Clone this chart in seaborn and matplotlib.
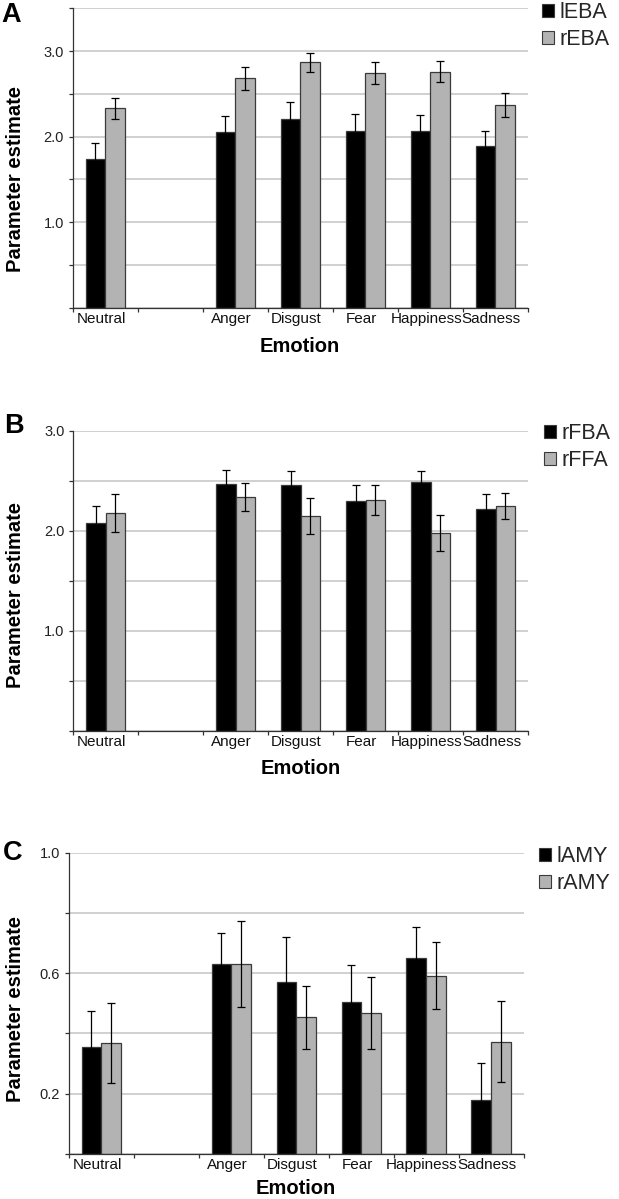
import numpy as np
import pandas as pd
import matplotlib
matplotlib.use("Agg")
import matplotlib.pyplot as plt
import seaborn as sns
from matplotlib.patches import Patch
from matplotlib.transforms import ScaledTranslation

# ---------------- data ----------------
emotions = ["Neutral", "Anger", "Disgust", "Fear", "Happiness", "Sadness"]
order = ["Neutral", " ", "Anger", "Disgust", "Fear", "Happiness", "Sadness"]

a_series = ["lEBA", "rEBA"]
a_first = [1.74, 2.05, 2.21, 2.07, 2.06, 1.895]
a_first_se = [0.19, 0.19, 0.20, 0.20, 0.19, 0.175]
a_second = [2.33, 2.68, 2.87, 2.74, 2.76, 2.375]
a_second_se = [0.12, 0.13, 0.11, 0.13, 0.12, 0.14]

b_series = ["rFBA", "rFFA"]
b_first = [2.08, 2.47, 2.46, 2.30, 2.49, 2.22]
b_first_se = [0.17, 0.14, 0.14, 0.16, 0.11, 0.15]
b_second = [2.18, 2.34, 2.15, 2.31, 1.98, 2.25]
b_second_se = [0.19, 0.14, 0.18, 0.15, 0.18, 0.13]

c_series = ["lAMY", "rAMY"]
c_first = [0.354, 0.63, 0.571, 0.506, 0.649, 0.179]
c_first_se = [0.12, 0.105, 0.15, 0.12, 0.105, 0.123]
c_second = [0.369, 0.63, 0.454, 0.469, 0.592, 0.373]
c_second_se = [0.133, 0.143, 0.105, 0.12, 0.11, 0.134]

ylabel = "Parameter estimate"
xlabel = "Emotion"

# ---------------- style ----------------
sns.set_theme(style="white")
plt.rcParams["font.family"] = ["Liberation Sans", "DejaVu Sans"]

W, H = 619, 1199
fig = plt.figure(figsize=(W / 100, H / 100), dpi=100)

def fx(px):
    return px / W

def fy(py):
    return 1 - py / H

BLACK = "#000000"
GRAY = "#b3b3b3"
EDGE = "#3a3a3a"

panels = [
    dict(letter="A", series=a_series, v1=a_first, e1=a_first_se, v2=a_second, e2=a_second_se,
         rect=(72.7, 8.3, 527.7, 307.7), ymax=3.5, step=0.5, labeled=[1.0, 2.0, 3.0],
         leg=(541.5, 2.0), letter_xy=(1, 22), ylab_y=179, xlab_y=347),
    dict(letter="B", series=b_series, v1=b_first, e1=b_first_se, v2=b_second, e2=b_second_se,
         rect=(73.0, 431.0, 528.0, 731.0), ymax=3.0, step=0.5, labeled=[1.0, 2.0, 3.0],
         leg=(543.5, 423.0), letter_xy=(4, 433), ylab_y=595, xlab_y=768),
    dict(letter="C", series=c_series, v1=c_first, e1=c_first_se, v2=c_second, e2=c_second_se,
         rect=(68.5, 852.7, 523.5, 1154.0), ymax=1.0, step=0.2, labeled=[0.2, 0.6, 1.0],
         leg=(539.0, 846.0), letter_xy=(3, 860), ylab_y=1009, xlab_y=1188),
]

for p in panels:
    l, t, r, b = p["rect"]
    ax = fig.add_axes([fx(l), fy(b), fx(r) - fx(l), fy(t) - fy(b)])
    s1, s2 = p["series"]
    df = pd.DataFrame({
        "Emotion": emotions * 2,
        "Region": [s1] * len(emotions) + [s2] * len(emotions),
        "Value": list(p["v1"]) + list(p["v2"]),
        "SE": list(p["e1"]) + list(p["e2"]),
    })
    sns.barplot(data=df, x="Emotion", y="Value", hue="Region", order=order,
                hue_order=[s1, s2], palette=[BLACK, GRAY], saturation=1,
                width=0.6, edgecolor=EDGE, linewidth=0.9, errorbar=None,
                legend=False, ax=ax)

    # error bars from the data, placed on the drawn bars
    se_lookup = {(row.Region, row.Emotion): row.SE for row in df.itertuples()}
    for cont, sname in zip(ax.containers, [s1, s2]):
        xs, ys, es = [], [], []
        for bar in cont:
            xc = bar.get_x() + bar.get_width() / 2
            cat = order[int(round(xc))]
            if cat.strip() == "":
                continue
            xs.append(xc)
            ys.append(bar.get_height())
            es.append(se_lookup[(sname, cat)])
        ax.errorbar(xs, ys, yerr=es, fmt="none", ecolor="#000000",
                    elinewidth=0.9, capsize=3.2, capthick=0.9, zorder=5)

    ax.set_xlim(-0.5, len(order) - 0.5)
    ax.set_ylim(0, p["ymax"])

    # y ticks / grid
    yt = np.round(np.arange(0, p["ymax"] + 1e-9, p["step"]), 3)
    ylabs = [f"{v:.1f}" if any(abs(v - q) < 1e-6 for q in p["labeled"]) else "" for v in yt]
    ax.set_yticks(yt)
    ax.set_yticklabels(ylabs, fontsize=10.5, color="#222222")
    ax.yaxis.grid(True, color="#c8c8c8", linewidth=1.2)
    ax.xaxis.grid(False)
    ax.set_axisbelow(True)
    ax.tick_params(axis="y", which="major", direction="out", length=3.2, width=0.9,
                   color="#333333", pad=3, left=True)

    # x ticks at category boundaries, labels at category centres
    ax.set_xticks(np.arange(-0.5, len(order), 1.0))
    ax.set_xticklabels([""] * len(np.arange(-0.5, len(order), 1.0)))
    ax.tick_params(axis="x", which="major", direction="out", length=3.2, width=0.9,
                   color="#333333", bottom=True)
    ax.set_xticks(range(len(order)), minor=True)
    ax.set_xticklabels([o.strip() for o in order], minor=True, fontsize=11, color="#111111")
    ax.tick_params(axis="x", which="minor", length=0, pad=3)
    off = ScaledTranslation(-4 / 100, 0, fig.dpi_scale_trans)
    for lab in ax.get_xticklabels(minor=True):
        lab.set_transform(lab.get_transform() + off)

    ax.set_xlabel("")
    ax.set_ylabel("")
    for side in ["top", "right"]:
        ax.spines[side].set_visible(False)
    for side in ["left", "bottom"]:
        ax.spines[side].set_color("#333333")
        ax.spines[side].set_linewidth(0.9)

    # legend
    handles = [Patch(facecolor=BLACK, edgecolor=EDGE, linewidth=0.8, label=s1),
               Patch(facecolor=GRAY, edgecolor=EDGE, linewidth=0.8, label=s2)]
    fig.legend(handles=handles, loc="upper left",
               bbox_to_anchor=(fx(p["leg"][0]), fy(p["leg"][1])),
               bbox_transform=fig.transFigure, frameon=False, fontsize=15.5,
               handlelength=0.58, handleheight=0.58, handletextpad=0.25,
               labelspacing=0.28, borderpad=0, borderaxespad=0)

    # labels
    fig.text(fx(p["letter_xy"][0]), fy(p["letter_xy"][1]), p["letter"], fontsize=19.5,
             fontweight="bold", ha="left", va="baseline", color="#000000")
    fig.text(fx(16), fy(p["ylab_y"]), ylabel, rotation=90, fontsize=14.5,
             fontweight="bold", ha="center", va="center", color="#000000")
    fig.text(fx((l + r) / 2), fy(p["xlab_y"]), xlabel, fontsize=14.5,
             fontweight="bold", ha="center", va="center", color="#000000")

fig.savefig("out.png", dpi=100, facecolor="white")
